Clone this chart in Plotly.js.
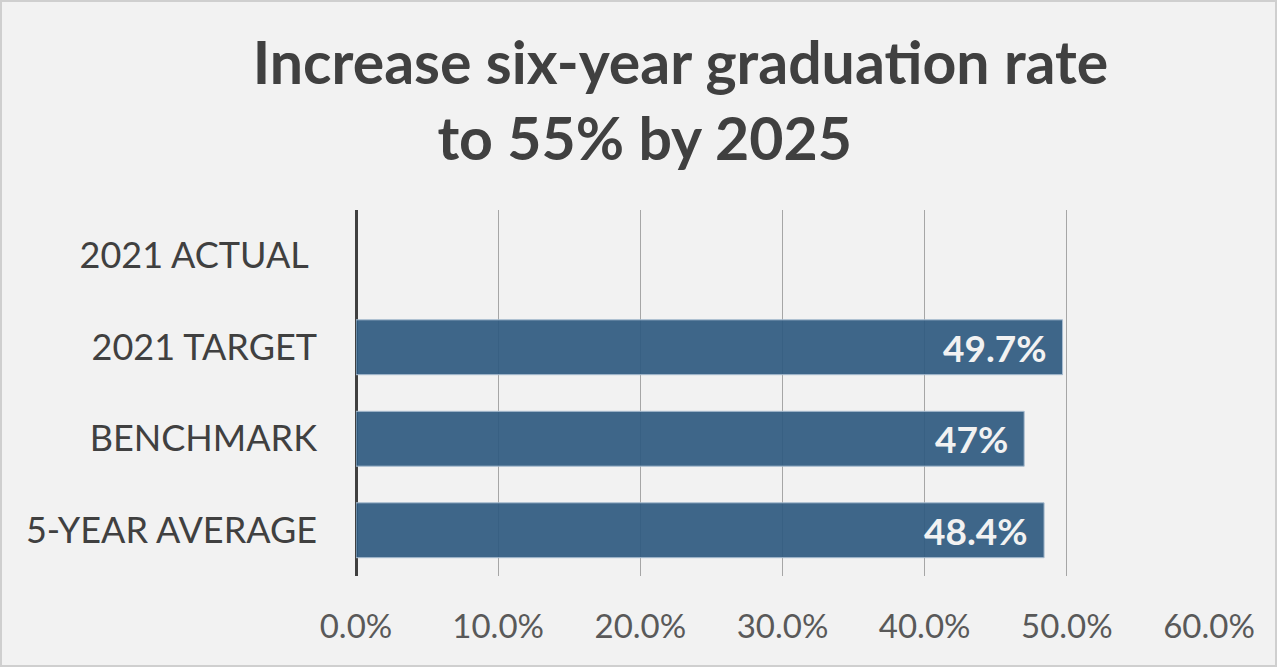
<!DOCTYPE html>
<html>
<head>
<meta charset="utf-8">
<script src="https://cdn.plot.ly/plotly-3.0.1.min.js"></script>
<style>
  html, body { margin: 0; padding: 0; background: #f2f2f2; }
  #chart { width: 1277px; height: 667px; box-sizing: border-box; border: 2px solid #cfcfcf; }
</style>
</head>
<body>
<div id="chart"></div>
<script>
const categories = ['2021 ACTUAL', '2021 TARGET', 'BENCHMARK', '5-YEAR AVERAGE'];
const categoryLabels = ['2021 ACTUAL\u00A0', '2021 TARGET', 'BENCHMARK', '5-YEAR AVERAGE'];
const values = [null, 49.7, 47, 48.4];
const valueLabels = ['', '49.7%', '47%', '48.4%'];
const xTicks = [0, 10, 20, 30, 40, 50, 60];
const xTickLabels = ['0.0%', '10.0%', '20.0%', '30.0%', '40.0%', '50.0%', '60.0%'];

const trace = {
  type: 'bar',
  orientation: 'h',
  y: categories,
  x: values,
  marker: { color: 'rgba(47,90,128,0.92)', line: { color: '#a9bdd0', width: 1 } },
  hoverinfo: 'skip'
};

const annotations = [];
categories.forEach((c, i) => {
  if (values[i] !== null && valueLabels[i]) {
    annotations.push({
      x: values[i], y: c, xref: 'x', yref: 'y',
      text: '<b>' + valueLabels[i] + '</b>',
      showarrow: false, xanchor: 'right', yanchor: 'middle', xshift: -14,
      font: { family: 'Lato, sans-serif', size: 37, color: '#f2f2f2' }
    });
  }
});

const layout = {
  width: 1273, height: 663,
  paper_bgcolor: '#f2f2f2', plot_bgcolor: '#f2f2f2',
  margin: { l: 354, r: 66, t: 208, b: 89 },
  bargap: 0.4,
  showlegend: false,
  title: {
    text: '<b>Increase six-year graduation rate<br>to 55% by 2025\u00A0\u00A0\u00A0\u00A0\u00A0</b>',
    x: 0.533, xref: 'container', xanchor: 'center',
    y: 0.877, yref: 'container', yanchor: 'top',
    font: { family: 'Lato, sans-serif', size: 59, color: '#404040' }
  },
  xaxis: {
    range: [0, 60], tickvals: xTicks, ticktext: xTickLabels,
    showgrid: true, gridcolor: '#a6a6a6', gridwidth: 1,
    zeroline: true, zerolinecolor: '#404040', zerolinewidth: 3,
    showline: false, ticks: '', ticklabelstandoff: 28,
    tickfont: { family: 'Lato, sans-serif', size: 33, color: '#595959' },
    fixedrange: true
  },
  yaxis: {
    type: 'category', categoryorder: 'array', categoryarray: categories,
    tickvals: categories, ticktext: categoryLabels,
    autorange: 'reversed', showgrid: false, zeroline: false, showline: false,
    ticks: '', ticklabelstandoff: 38,
    tickfont: { family: 'Lato, sans-serif', size: 36, color: '#404040' },
    fixedrange: true
  },
  annotations: annotations
};

Plotly.newPlot('chart', [trace], layout, { displayModeBar: false, staticPlot: true });
</script>
</body>
</html>
